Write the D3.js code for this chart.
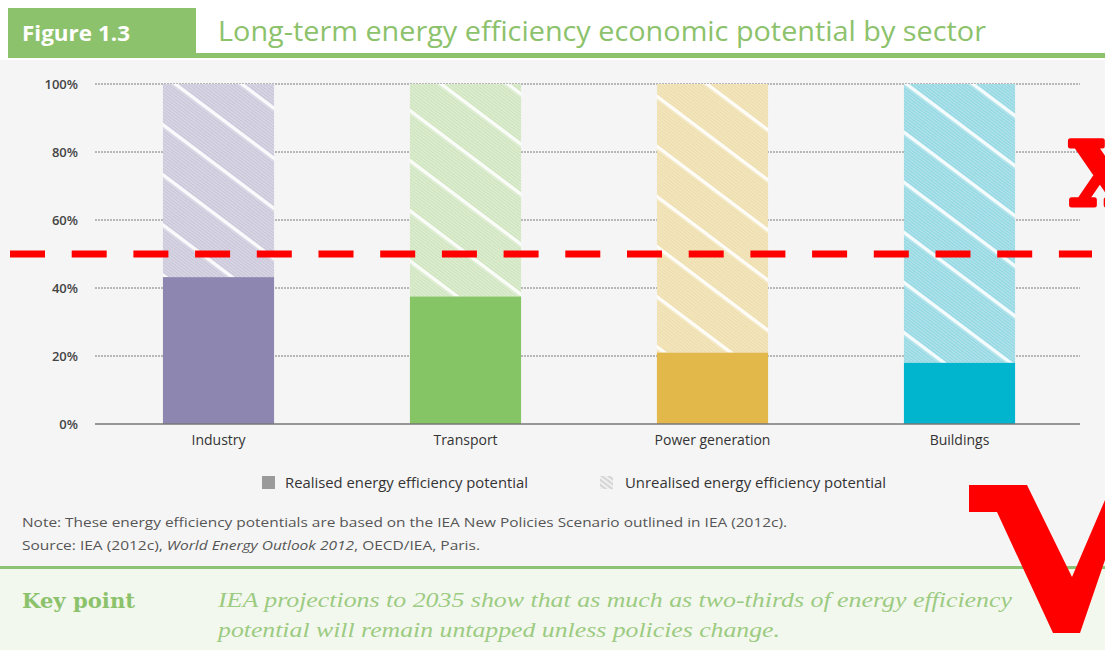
<!DOCTYPE html>
<html><head><meta charset="utf-8">
<script src="https://cdn.jsdelivr.net/npm/d3@7"></script>
<style>body{margin:0;background:#fff;}svg{display:block;}</style>
</head><body>
<script>
const categories = ["Industry", "Transport", "Power generation", "Buildings"];
const realised = [43.2, 37.5, 21, 18];
const yTicks = [0, 20, 40, 60, 80, 100];
const seriesNames = ["Realised energy efficiency potential", "Unrealised energy efficiency potential"];
const barColors = ["#8d86b0", "#86c565", "#e2b84b", "#00b5cd"];
const tintColors = ["#dddbe7", "#e4efd9", "#f3e9c8", "#bde4eb"];
const thresholdValue = 50;

const W = 1105, H = 650;
const svg = d3.select("body").append("svg").attr("width", W).attr("height", H);
const defs = svg.append("defs");

// backgrounds
svg.append("rect").attr("x",0).attr("y",0).attr("width",W).attr("height",H).attr("fill","#ffffff");
svg.append("rect").attr("x",0).attr("y",60).attr("width",W).attr("height",507).attr("fill","#f5f5f5");
svg.append("rect").attr("x",0).attr("y",567).attr("width",W).attr("height",83).attr("fill","#f3f8ee");
svg.append("rect").attr("x",0).attr("y",566).attr("width",W).attr("height",3).attr("fill","#8cc474");

// header
svg.append("rect").attr("x",8).attr("y",8).attr("width",188).attr("height",50).attr("fill","#8cc26b");
svg.append("rect").attr("x",196).attr("y",53).attr("width",W-196).attr("height",5).attr("fill","#8cc26b");
svg.append("text").attr("x",22).attr("y",41).text("Figure 1.3")
  .attr("font-family","Open Sans").attr("font-weight","bold").attr("font-size",21).attr("fill","#ffffff")
  .attr("textLength",108).attr("lengthAdjust","spacingAndGlyphs");
svg.append("text").attr("x",218).attr("y",41).text("Long-term energy efficiency economic potential by sector")
  .attr("font-family","Open Sans").attr("font-size",27).attr("fill","#8cc26b")
  .attr("textLength",768).attr("lengthAdjust","spacingAndGlyphs");

// patterns
const PS = 40;
categories.forEach((c,i)=>{
  const p = defs.append("pattern").attr("id","hatch"+i).attr("patternUnits","userSpaceOnUse")
    .attr("width",PS).attr("height",PS).attr("patternTransform","rotate(37)");
  p.append("rect").attr("width",PS).attr("height",PS).attr("fill",tintColors[i]);
  for(let k=0;k<16;k++){
    p.append("line").attr("x1",0).attr("x2",PS).attr("y1",k*2.5+1.25).attr("y2",k*2.5+1.25)
      .attr("stroke",barColors[i]).attr("stroke-opacity",0.45).attr("stroke-width",0.8);
  }
  p.append("rect").attr("x",0).attr("y",0).attr("width",PS).attr("height",3.5).attr("fill","#ffffff").attr("opacity",0.9);
});
const lp = defs.append("pattern").attr("id","hatchLegend").attr("patternUnits","userSpaceOnUse")
  .attr("width",4).attr("height",4).attr("patternTransform","rotate(37)");
lp.append("rect").attr("width",4).attr("height",4).attr("fill","#f0f0f0");
lp.append("line").attr("x1",0).attr("x2",4).attr("y1",2).attr("y2",2).attr("stroke","#c4c4c4").attr("stroke-width",1.2);

// scales
const x = d3.scaleBand().domain(categories).range([95,1083]).paddingInner(0.55).paddingOuter(0.275);
const y = d3.scaleLinear().domain([0,100]).range([424,84]);

// gridlines
const g = svg.append("g");
g.selectAll("line.grid").data(yTicks.filter(d=>d>0)).join("line")
  .attr("x1",95).attr("x2",1080).attr("y1",d=>y(d)).attr("y2",d=>y(d))
  .attr("stroke","#7a7a7a").attr("stroke-width",1).attr("stroke-dasharray","2,1");

// y axis labels
const yAxis = d3.axisLeft(y).tickValues(yTicks).tickFormat(d=>d+"%").tickSize(0).tickPadding(0);
const ya = svg.append("g").attr("transform","translate(78,0)").call(yAxis);
ya.select(".domain").remove();
ya.selectAll("text").attr("font-family","Open Sans").attr("font-size",13).attr("font-weight",600).attr("fill","#444");

// bars
const bars = svg.append("g");
bars.selectAll("rect.unreal").data(categories).join("rect").attr("class","unreal")
  .attr("x",d=>x(d)).attr("width",x.bandwidth())
  .attr("y",y(100)).attr("height",(d,i)=>y(realised[i])-y(100))
  .attr("fill",(d,i)=>"url(#hatch"+i+")");
bars.selectAll("rect.real").data(categories).join("rect").attr("class","real")
  .attr("x",d=>x(d)).attr("width",x.bandwidth())
  .attr("y",(d,i)=>y(realised[i])).attr("height",(d,i)=>y(0)-y(realised[i]))
  .attr("fill",(d,i)=>barColors[i]);

// x axis
const xAxis = d3.axisBottom(x).tickSize(0).tickPadding(11);
const xa = svg.append("g").attr("transform","translate(0,"+y(0)+")").call(xAxis);
xa.select(".domain").attr("d","M95,0H1080").attr("stroke","#777").attr("stroke-width",1.5);
xa.selectAll("text").attr("font-family","Open Sans").attr("font-size",14).attr("fill","#333");

// threshold line
svg.append("line").attr("x1",10).attr("x2",1092).attr("y1",y(thresholdValue)).attr("y2",y(thresholdValue))
  .attr("stroke","#ff0000").attr("stroke-width",7).attr("stroke-dasharray","35,26.7");

// legend
const leg = svg.append("g");
leg.append("rect").attr("x",262).attr("y",476).attr("width",13).attr("height",13).attr("fill","#9a9a9a");
leg.append("text").attr("x",285).attr("y",488).text(seriesNames[0])
  .attr("font-family","Open Sans").attr("font-size",14).attr("fill","#333")
  .attr("textLength",243).attr("lengthAdjust","spacingAndGlyphs");
leg.append("rect").attr("x",600).attr("y",476).attr("width",13).attr("height",13).attr("fill","url(#hatchLegend)");
leg.append("text").attr("x",625).attr("y",488).text(seriesNames[1])
  .attr("font-family","Open Sans").attr("font-size",14).attr("fill","#333")
  .attr("textLength",261).attr("lengthAdjust","spacingAndGlyphs");

// notes
svg.append("text").attr("x",22).attr("y",527)
  .text("Note: These energy efficiency potentials are based on the IEA New Policies Scenario outlined in IEA (2012c).")
  .attr("font-family","Open Sans").attr("font-size",13.5).attr("fill","#555")
  .attr("textLength",765).attr("lengthAdjust","spacingAndGlyphs");
const src = svg.append("text").attr("x",22).attr("y",550)
  .attr("font-family","Open Sans").attr("font-size",13.5).attr("fill","#555")
  .attr("textLength",458).attr("lengthAdjust","spacingAndGlyphs");
src.append("tspan").text("Source: IEA (2012c), ");
src.append("tspan").attr("font-style","italic").text("World Energy Outlook 2012");
src.append("tspan").text(", OECD/IEA, Paris.");

// key point
svg.append("text").attr("x",22).attr("y",608).text("Key point")
  .attr("font-family","DejaVu Serif").attr("font-weight","bold").attr("font-size",20).attr("fill","#8cc26b")
  .attr("textLength",113).attr("lengthAdjust","spacingAndGlyphs");
svg.append("text").attr("x",218).attr("y",607)
  .text("IEA projections to 2035 show that as much as two-thirds of energy efficiency")
  .attr("font-family","Liberation Serif").attr("font-style","italic").attr("font-size",22).attr("fill","#9ccb82")
  .attr("textLength",794).attr("lengthAdjust","spacingAndGlyphs");
svg.append("text").attr("x",218).attr("y",637)
  .text("potential will remain untapped unless policies change.")
  .attr("font-family","Liberation Serif").attr("font-style","italic").attr("font-size",22).attr("fill","#9ccb82")
  .attr("textLength",562).attr("lengthAdjust","spacingAndGlyphs");

// red annotations
svg.append("text").attr("x",1070).attr("y",205).text("X")
  .attr("font-family","DejaVu Serif").attr("font-weight","bold").attr("font-size",88).attr("fill","#ff0000")
  .attr("stroke","#ff0000").attr("stroke-width",5).attr("stroke-linejoin","round");
svg.append("path").attr("d","M969,485L1027,485L1072,577L1105,500L1105,560L1080,633L1053,633L997,512L969,512Z")
  .attr("fill","#ff0000");
</script>
</body></html>
